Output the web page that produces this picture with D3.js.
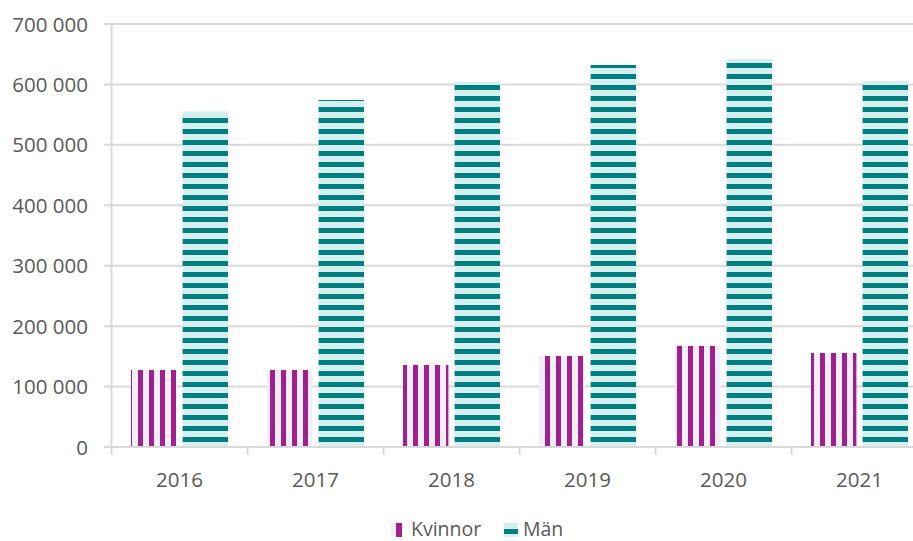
<!DOCTYPE html>
<html>
<head>
<meta charset="utf-8">
<script src="https://cdn.jsdelivr.net/npm/d3@7"></script>
<style>
  body { margin: 0; background: #fff; }
  svg { display: block; font-family: "Open Sans", sans-serif; }
  .tick-label { fill: #595959; font-size: 20.5px; }
  .legend-label { fill: #595959; font-size: 19.5px; }
</style>
</head>
<body>
<svg width="913" height="541"></svg>
<script>
// chart data
const years = ['2016', '2017', '2018', '2019', '2020', '2021'];
const series = ['Kvinnor', 'Män'];
const kvinnor = [127400, 127400, 135700, 150600, 167200, 155600];
const man = [554500, 574300, 604100, 632200, 642000, 605800];
const yTicks = [0, 100000, 200000, 300000, 400000, 500000, 600000, 700000];

const svg = d3.select('svg');

// patterns (userSpaceOnUse so stripes line up across the chart)
const defs = svg.append('defs');
const pk = defs.append('pattern')
  .attr('id', 'pat-k')
  .attr('patternUnits', 'userSpaceOnUse')
  .attr('x', 0).attr('y', 0)
  .attr('width', 11).attr('height', 11);
pk.append('rect').attr('width', 11).attr('height', 11).attr('fill', '#f1eef6');
pk.append('rect').attr('x', 6).attr('width', 5).attr('height', 11).attr('fill', '#a0208f');

const pm = defs.append('pattern')
  .attr('id', 'pat-m')
  .attr('patternUnits', 'userSpaceOnUse')
  .attr('x', 0).attr('y', 0)
  .attr('width', 11).attr('height', 11);
pm.append('rect').attr('width', 11).attr('height', 11).attr('fill', '#d5eeee');
pm.append('rect').attr('y', 8).attr('width', 11).attr('height', 5).attr('fill', '#007f80');
pm.append('rect').attr('y', -3).attr('width', 11).attr('height', 5).attr('fill', '#007f80');

const fills = { 'Kvinnor': 'url(#pat-k)', 'Män': 'url(#pat-m)' };

// scales in absolute pixel space
const y = d3.scaleLinear().domain([0, 700000]).range([447, 24]);
const x0 = d3.scaleBand().domain(years).range([111.5, 927.5]);
const x1 = d3.scaleBand().domain(series).range([19.5, 116.5]).paddingInner(0.12);

const fmt = v => d3.format(',')(v).replace(/,/g, ' ');

// gridlines
svg.append('g').selectAll('line')
  .data(yTicks.filter(d => d > 0))
  .join('line')
  .attr('x1', 104).attr('x2', 913)
  .attr('y1', d => y(d)).attr('y2', d => y(d))
  .attr('stroke', '#d9d9d9').attr('stroke-width', 2);

// y tick labels
svg.append('g').selectAll('text')
  .data(yTicks)
  .join('text')
  .attr('class', 'tick-label')
  .attr('x', 88)
  .attr('y', d => y(d) + 7.5)
  .attr('text-anchor', 'end')
  .text(fmt);

// bars
const rows = years.map((yr, i) => ({ year: yr, values: [
  { key: 'Kvinnor', value: kvinnor[i] },
  { key: 'Män', value: man[i] }
]}));

svg.append('g').selectAll('g')
  .data(rows)
  .join('g')
  .selectAll('rect')
  .data(d => d.values.map(v => ({ ...v, year: d.year })))
  .join('rect')
  .attr('x', d => x0(d.year) + x1(d.key))
  .attr('width', x1.bandwidth())
  .attr('y', d => y(d.value))
  .attr('height', d => y(0) - y(d.value))
  .attr('fill', d => fills[d.key]);

// axes lines
svg.append('line')
  .attr('x1', 104).attr('x2', 913)
  .attr('y1', y(0)).attr('y2', y(0))
  .attr('stroke', '#d9d9d9').attr('stroke-width', 2);
svg.append('line')
  .attr('x1', 111.5).attr('x2', 111.5)
  .attr('y1', y(700000)).attr('y2', 455)
  .attr('stroke', '#d9d9d9').attr('stroke-width', 2);
svg.append('line')
  .attr('x1', 104).attr('x2', 111.5)
  .attr('y1', y(700000)).attr('y2', y(700000))
  .attr('stroke', '#d9d9d9').attr('stroke-width', 2);

// category ticks
svg.append('g').selectAll('line')
  .data(years.slice(1))
  .join('line')
  .attr('x1', d => x0(d)).attr('x2', d => x0(d))
  .attr('y1', y(0)).attr('y2', 455)
  .attr('stroke', '#d9d9d9').attr('stroke-width', 2);

// x labels
svg.append('g').selectAll('text')
  .data(years)
  .join('text')
  .attr('class', 'tick-label')
  .attr('x', d => x0(d) + x0.bandwidth() / 2)
  .attr('y', 487)
  .attr('text-anchor', 'middle')
  .text(d => d);

// legend
const legend = svg.append('g');
const lk = legend.append('g').attr('transform', 'translate(391,523)');
lk.append('rect').attr('width', 5).attr('height', 14).attr('fill', '#f1eef6');
lk.append('rect').attr('x', 5).attr('width', 6).attr('height', 14).attr('fill', '#a0208f');
legend.append('text').attr('class', 'legend-label')
  .attr('x', 411).attr('y', 536).text('Kvinnor');

const lm = legend.append('g').attr('transform', 'translate(504,523)');
lm.append('rect').attr('width', 14).attr('height', 14).attr('fill', '#d5eeee');
lm.append('rect').attr('y', 6).attr('width', 14).attr('height', 5).attr('fill', '#007f80');
legend.append('text').attr('class', 'legend-label')
  .attr('x', 523).attr('y', 536).text('Män');
</script>
</body>
</html>
